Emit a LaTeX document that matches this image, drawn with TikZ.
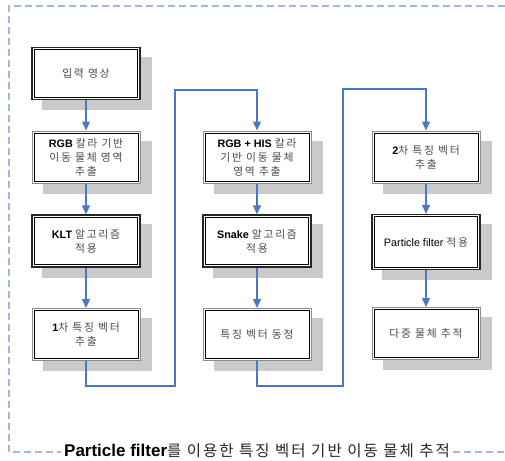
\documentclass[tikz,border=0pt]{standalone}
\usepackage{fontspec}
\setmainfont{Liberation Sans}
\newfontfamily\kr[LetterSpace=16]{Noto Sans CJK KR}
\newfontfamily\krt[LetterSpace=13]{Noto Sans CJK KR}
\usetikzlibrary{arrows.meta,backgrounds}
\definecolor{arrowblue}{HTML}{4A78C6}
\definecolor{framec}{HTML}{9DB8E2}
\definecolor{shadowc}{HTML}{CACACA}
\definecolor{krc}{HTML}{4A4A4A}
\newcommand\K[1]{{\kr\color{krc}#1}}
\begin{document}
\begin{tikzpicture}[x=1pt,y=-1pt,
  box/.style={fill=white, minimum width=108pt, minimum height=52pt, align=center,
    font=\fontsize{10.8}{14}\selectfont, inner sep=0pt},
  heavy/.style={box, draw=black!85, line width=1.3pt},
  light/.style={box, draw=black!45, line width=1pt},
  arr/.style={draw=arrowblue, line width=1.3pt, -{Triangle[width=8pt,length=9pt]}},
  frame/.style={draw=framec, line width=1.2pt, dash pattern=on 7pt off 4pt}]
\useasboundingbox (0,0) rectangle (505,460);
% column 1
\node[heavy] (a1) at (86,73.5) {\K{입력 영상}};
\node[light] (a2) at (86,157) {\textbf{RGB} \K{칼라 기반}\\\K{이동 물체 영역}\\\K{추출}};
\node[heavy] (a3) at (86,241) {\textbf{KLT} \K{알고리즘}\\\K{적용}};
\node[light] (a4) at (86,334.5) {\textbf{1}\K{차 특징 벡터}\\\K{추출}};
% column 2
\node[light] (b1) at (257,157) {\textbf{RGB + HIS} \K{칼라}\\\K{기반 이동 물체}\\\K{영역 추출}};
\node[heavy] (b2) at (257,241) {\textbf{Snake} \K{알고리즘}\\\K{적용}};
\node[light] (b3) at (257,334.5) {\K{특징 벡터 동정}};
% column 3
\node[light] (c1) at (426,157) {\textbf{2}\K{차 특징 벡터}\\\K{추출}};
\node[heavy, minimum height=55pt] (c2) at (426,242) {Particle filter \K{적용}};
\node[light] (c3) at (426,333.5) {\K{다중 물체 추적}};
% inner lines
\foreach \n in {a1,a3,b2,c2}
  \draw[black, line width=1.2pt] ([shift={(3pt,-3pt)}]\n.north west) rectangle ([shift={(-3pt,3pt)}]\n.south east);
\foreach \n in {a2,a4,b1,b3,c1,c3}
  \draw[black, line width=1pt] ([shift={(2.5pt,-2.5pt)}]\n.north west) rectangle ([shift={(-2.5pt,2.5pt)}]\n.south east);
% shadows
\begin{scope}[on background layer]
\foreach \n in {a1,a2,a3,a4,b1,b2,b3,c1,c2,c3}
  \fill[shadowc] ([shift={(11pt,-10pt)}]\n.north west) rectangle ([shift={(11pt,-10pt)}]\n.south east);
\end{scope}
% connectors
\draw[arr] (a1) -- (a2);
\draw[arr] (a2) -- (a3);
\draw[arr] (a3) -- (a4);
\draw[arr] (b1) -- (b2);
\draw[arr] (b2) -- (b3);
\draw[arr] (c1) -- (c2);
\draw[arr] (c2) -- (c3);
\coordinate (l1) at (175,386);
\coordinate (t1) at (175,90);
\coordinate (l2) at (343,386);
\coordinate (t2) at (343,89);
\draw[arr, line width=1.1pt] (a4.south) |- (l1) -- (t1) -| (b1.north);
\draw[arr, line width=1.1pt] (b3.south) |- (l2) -- (t2) -| (c1.north);
% title and frame
\node[fill=white, inner xsep=3pt, inner ysep=0pt, font=\fontsize{17}{18}\selectfont] (title) at (257,451)
  {\textbf{Particle filter}{\krt\fontsize{15.5}{18}\selectfont\color{black!85}를 이용한 특징 벡터 기반 이동 물체 추적}};
\coordinate (f1) at (505,6);
\coordinate (f2) at (9,6);
\coordinate (f3) at (9,452);
\coordinate (f4) at (505,452);
\begin{scope}[on background layer]
\draw[frame] (f1) -- (f2) -- (f3) -- (f3 -| title.west);
\draw[frame] (f4 -| title.east) -- (f4);
\end{scope}
\end{tikzpicture}
\end{document}
